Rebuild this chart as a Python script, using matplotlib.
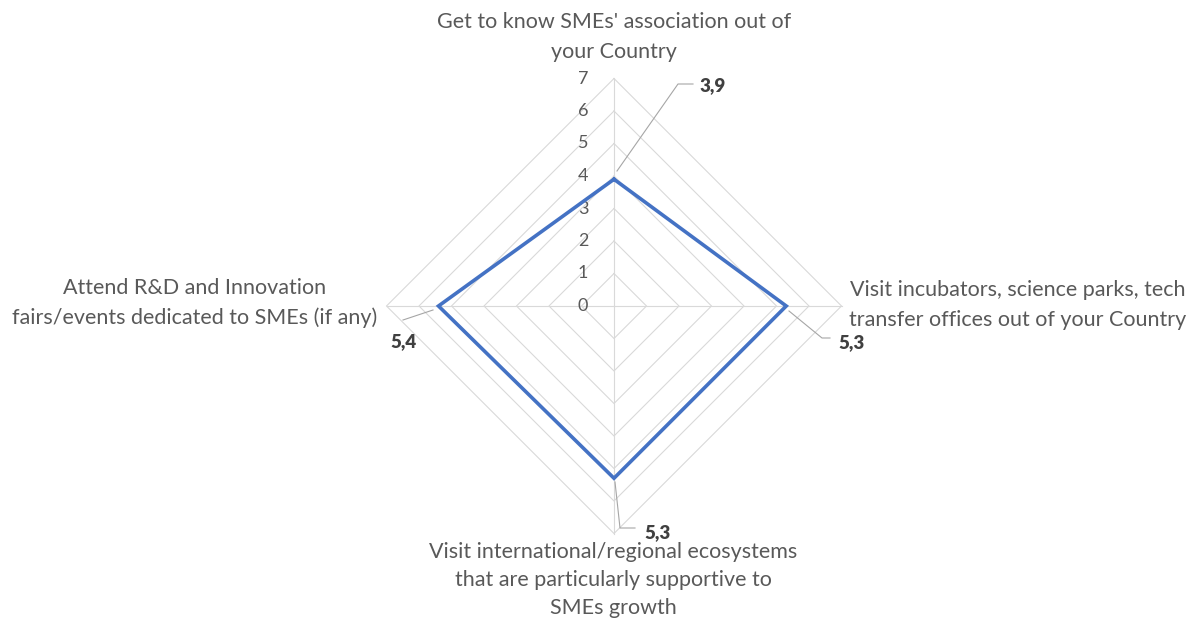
import numpy as np
import matplotlib
matplotlib.use("Agg")
import matplotlib.pyplot as plt

# --- dati ---
categories = ["Get to know SMEs' association out of\nyour Country",
              "Visit incubators, science parks, tech\ntransfer offices out of your Country",
              "Visit international/regional ecosystems\nthat are particularly supportive to\nSMEs growth",
              "Attend R&D and Innovation\nfairs/events dedicated to SMEs (if any)"]
values = [3.9, 5.3, 5.3, 5.4]
value_labels = ["3,9", "5,3", "5,3", "5,4"]
rings = [0, 1, 2, 3, 4, 5, 6, 7]

plt.rcParams['font.family'] = ['Lato', 'DejaVu Sans']
GRID = '#d9d9d9'; BLUE = '#4472c4'; TXT = '#595959'; LAB = '#404040'

# scala: 1 unita = 32.5 px, centro a (614, 306) px
U = 32.5
cx, cy = 614, 306
W, H = 1194, 621
fig = plt.figure(figsize=(W/100, H/100), dpi=100)
ax = fig.add_axes([0, 0, 1, 1])
ax.set_xlim(-cx/U, (W-cx)/U)
ax.set_ylim(-(H-cy)/U, cy/U)
ax.axis('off')

ang = np.pi/2 - np.arange(len(values))*2*np.pi/len(values)
ang_c = np.append(ang, ang[0])

# griglia a rombo + raggi
for r in rings[1:]:
    ax.plot(r*np.cos(ang_c), r*np.sin(ang_c), color=GRID, lw=0.8, zorder=1)
for a in ang:
    ax.plot([0, rings[-1]*np.cos(a)], [0, rings[-1]*np.sin(a)], color=GRID, lw=0.8, zorder=1)

# etichette radiali
for r in rings:
    ax.text(-0.95, r, str(r), ha='center', va='center', fontsize=13, color=TXT)

# serie
v = np.append(values, values[0])
ax.plot(v*np.cos(ang_c), v*np.sin(ang_c), color=BLUE, lw=2.6, zorder=3,
        solid_joinstyle='miter')

# etichette valori con linee guida (offset in px)
px = lambda x, y: ((x-cx)/U, (cy-y)/U)
leaders = [[(617, 171), (678, 84), (693, 84)],
           [(789, 311), (822, 338), (830, 338)],
           [(615, 482), (620, 528), (635, 528)],
           [(433, 310), (403, 320)]]
lab_pos = [(700, 86, 'left'), (838, 343, 'left'), (644, 533, 'left'), (404, 342, 'center')]
for pts, (lx, ly, ha), t in zip(leaders, lab_pos, value_labels):
    xy = np.array([px(*p) for p in pts])
    ax.plot(xy[:, 0], xy[:, 1], color='#a6a6a6', lw=0.8, zorder=2)
    ax.text(*px(lx, ly), t, ha=ha, va='center', fontsize=13.5, fontweight='heavy', color=LAB)

# etichette categorie
cat_pos = [(614, 37), (1018, 305), (613, 580), (195, 303)]
spacing = [1.58, 1.58, 1.5, 1.58]
for (x, y), c, ls in zip(cat_pos, categories, spacing):
    ax.text(*px(x, y), c, ha='center', va='center', fontsize=15.5, color=TXT,
            linespacing=ls)

fig.savefig('out.png', dpi=100)
